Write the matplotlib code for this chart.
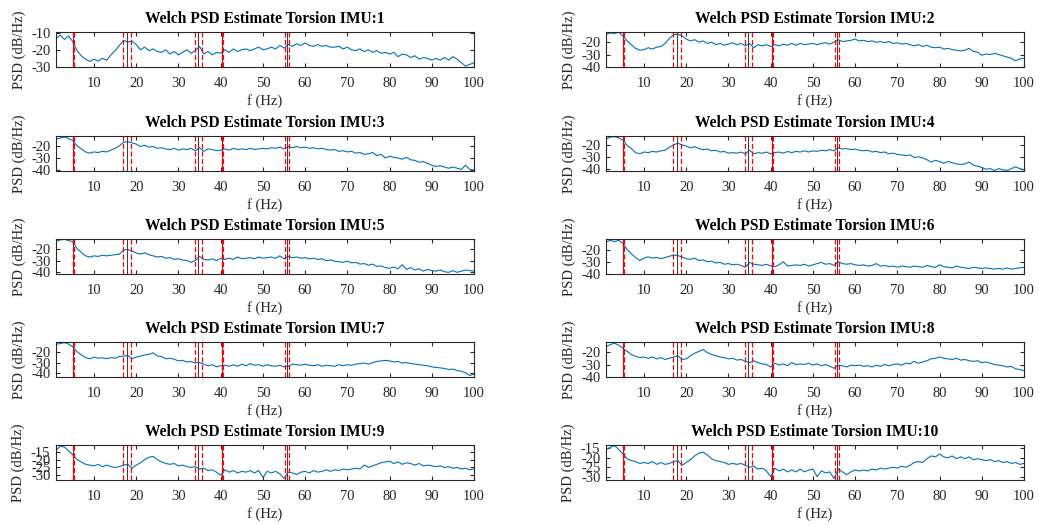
import matplotlib
matplotlib.use("Agg")
import matplotlib.pyplot as plt
import numpy as np

plt.rcParams['font.family'] = ['Liberation Serif', 'DejaVu Serif']
plt.rcParams['axes.unicode_minus'] = False

freq = np.arange(1, 101)

psd1 = [-13.5, -11.5, -14, -12, -15.5, -20.5, -23.5, -25.5, -26.8, -25.5,
        -26.5, -25, -26, -23, -20.5, -17.5, -14.5, -15.5, -15, -17,
        -20, -18.5, -20.5, -19.5, -21, -21.5, -20, -22.5, -21, -23,
        -21.5, -20, -22, -20.5, -18, -22.5, -21, -23, -21.5, -22,
        -20, -21.5, -19.5, -21, -20, -19.5, -20.5, -19.5, -18.5, -20,
        -19.5, -18.5, -19.5, -17.5, -19, -17, -18, -16.5, -17.5, -16,
        -17.5, -18, -17, -18, -17.5, -18.5, -18.5, -18, -19.5, -18.5,
        -20, -20.5, -19.5, -21, -20, -21.5, -20.5, -22, -21.5, -22.5,
        -21.5, -24, -22.5, -23, -24.5, -23.5, -25.5, -24.5, -25, -26,
        -25, -26, -24.5, -26, -24, -25.5, -27.5, -29.5, -28.5, -27.5]
psd2 = [-14, -12.5, -13, -12, -15, -19, -22, -25, -26.5, -26,
        -24.5, -25.5, -24, -23.5, -21, -17, -14, -13.5, -15, -17.5,
        -19, -18, -20, -19, -21, -20, -22, -21, -22.5, -21.5,
        -20.5, -22, -21, -23, -21, -24.5, -22, -23, -22, -23.5,
        -22, -23, -21.5, -22.5, -21, -22.5, -21, -22, -21.5, -21,
        -22, -21, -20.5, -21.5, -20, -18, -19.5, -19, -18.5, -17.5,
        -19, -18.5, -19.5, -19, -20, -19.5, -20.5, -19.5, -21, -20.5,
        -21.5, -21, -22, -23, -22, -23.5, -22.5, -24, -24.5, -24,
        -25.5, -25, -26, -26.5, -27, -26.5, -25, -27.5, -28, -30.5,
        -29.5, -30, -29, -30, -31, -32, -33, -35, -33.5, -33]
psd3 = [-14.5, -13.5, -12.5, -14, -15.5, -20, -22.5, -25, -26, -25,
        -25.5, -24.5, -25, -23.5, -22, -20, -17, -16.5, -17.5, -18.5,
        -20.5, -19.5, -21, -20.5, -22, -21.5, -22.5, -23, -22, -23.5,
        -22.5, -23, -22, -24, -21.5, -24.5, -22.5, -23, -24, -23.5,
        -22.5, -23.5, -22, -23, -22.5, -23, -22, -23, -22.5, -22,
        -22.5, -21.5, -22, -21, -22.5, -20.5, -21.5, -20.5, -21.5, -21,
        -22, -21.5, -22.5, -22, -23, -23.5, -23, -24.5, -24, -25,
        -24.5, -26, -25.5, -27, -26.5, -25.5, -28, -27, -30, -28.5,
        -29.5, -30, -31, -29.5, -31.5, -32, -33.5, -33, -34.5, -36,
        -37, -36.5, -37.5, -38.5, -37.5, -38.5, -39.5, -36, -39.5, -40]
psd4 = [-15, -13.5, -13, -14, -16, -20.5, -23, -26.5, -27.5, -26,
        -26.5, -25.5, -26, -25, -24.5, -22, -20, -18.5, -20, -21,
        -22.5, -21.5, -23, -24, -23.5, -25, -24.5, -26, -25.5, -27,
        -26.5, -27, -26, -27.5, -24.5, -27.5, -26.5, -27, -26, -27.5,
        -26.5, -26, -27, -25.5, -26.5, -25.5, -26, -25, -26, -25,
        -25.5, -24.5, -25, -24, -25, -22.5, -23.5, -23, -24, -23.5,
        -24.5, -25, -24.5, -26, -25.5, -26.5, -26, -27.5, -27, -28,
        -28.5, -29, -28.5, -30.5, -30, -31, -32.5, -34.5, -33, -34,
        -35.5, -34, -35, -36, -36.5, -36, -34.5, -37, -38, -39,
        -40.5, -40, -41.5, -40, -41, -41.5, -40, -38.5, -40, -41]
psd5 = [-13.5, -12.5, -12, -13, -14, -20, -23, -26, -27, -26,
        -26.5, -25.5, -26, -25.5, -25, -24.5, -21, -20.5, -22, -23.5,
        -24.5, -23.5, -25, -26, -27, -26.5, -28, -27.5, -29, -28.5,
        -29.5, -30, -31.5, -30, -26.5, -29, -29.5, -28.5, -30, -28,
        -29, -28, -29, -27, -28.5, -28, -27.5, -28.5, -27, -28,
        -27.5, -27, -28, -26, -28.5, -26.5, -27.5, -27, -28, -27.5,
        -28.5, -28, -29, -28.5, -30, -29.5, -30.5, -31, -31.5, -30.5,
        -32, -31.5, -33, -32.5, -34, -33, -35, -34.5, -36, -36.5,
        -35.5, -37, -33.5, -37.5, -36, -38, -37, -39, -37.5, -38.5,
        -39, -38, -39.5, -40, -38.5, -40, -39, -38, -38.5, -39]
psd6 = [-14, -12.5, -13.5, -12.5, -15, -20, -23.5, -26.5, -29, -27,
        -26, -27, -26.5, -27.5, -26.5, -25.5, -24.5, -25, -26, -27.5,
        -28, -27, -29, -28.5, -30, -29.5, -31, -30.5, -32, -31.5,
        -32.5, -32, -33, -34.5, -30.5, -32, -32.5, -33, -32, -33.5,
        -34, -32.5, -30, -33.5, -33, -32.5, -33, -32, -33.5, -32.5,
        -31.5, -30.5, -32, -31.5, -33, -30, -31.5, -32, -31.5, -32.5,
        -33, -32.5, -33.5, -33, -31.5, -33.5, -33, -34, -33.5, -34.5,
        -33.5, -34, -34.5, -33.5, -34, -34.5, -33, -34, -34.5, -32.5,
        -34, -34.5, -35, -33.5, -34.5, -35, -35.5, -34.5, -35, -35.5,
        -35, -35.5, -36, -35.5, -36, -35, -36, -35.5, -35, -34.5]
psd7 = [-13, -12.5, -11.5, -13, -15.5, -20, -23, -25.5, -26.5, -25,
        -26, -25.5, -26.5, -25.5, -26, -24.5, -24, -23.5, -26.5, -25,
        -24, -23, -22.5, -21, -24, -24.5, -26.5, -26, -27, -28.5,
        -28, -29.5, -29, -30.5, -30, -31.5, -33, -32, -34, -33,
        -32.5, -33.5, -32, -33.5, -31.5, -33, -31, -32.5, -32, -33.5,
        -32, -33, -33.5, -32.5, -34, -33.5, -31.5, -32, -32.5, -31.5,
        -32.5, -33, -32, -33.5, -32.5, -33, -33.5, -32, -33, -32,
        -32.5, -31.5, -31, -30.5, -31.5, -30, -29, -28.5, -28, -28.5,
        -29.5, -29, -30.5, -30, -31, -31.5, -32, -32.5, -33, -34,
        -34.5, -35, -35.5, -36.5, -36, -37.5, -38, -39.5, -42, -40.5]
psd8 = [-16, -14, -13, -14.5, -17, -19.5, -22, -23.5, -24.5, -24,
        -25, -24, -25.5, -24.5, -26, -25, -24, -23, -26, -25.5,
        -23, -21, -19.5, -18, -20.5, -22, -23, -24, -24.5, -25.5,
        -25, -26.5, -26, -27.5, -28.5, -27, -28.5, -29.5, -30, -32,
        -29, -30.5, -29.5, -31, -28.5, -30, -29.5, -30, -29, -30.5,
        -29.5, -31, -30, -31.5, -33, -30.5, -31, -32, -30.5, -31,
        -30.5, -31.5, -31, -32, -30.5, -31.5, -30, -31, -30, -29.5,
        -30.5, -29, -29.5, -27.5, -29, -28, -27, -25.5, -25, -24,
        -25, -25.5, -26, -25, -26.5, -26, -27, -27.5, -27, -28.5,
        -28, -29, -30, -30.5, -31, -32, -31.5, -33.5, -34, -35]
psd9 = [-14, -11.5, -12, -14.5, -17, -20, -21.5, -23, -23.5, -24,
        -23, -24.5, -23.5, -24.5, -25, -24.5, -23.5, -23, -25.5, -23.5,
        -22, -20, -18.5, -18, -20, -21.5, -22.5, -23, -22.5, -24,
        -23.5, -24.5, -25, -24.5, -26, -25.5, -27, -26.5, -28, -30,
        -26.5, -28, -27, -28.5, -27.5, -28, -27, -28.5, -27, -31.5,
        -27.5, -28.5, -27.5, -29, -32, -28, -28.5, -29.5, -28, -27.5,
        -28.5, -27, -28, -27.5, -26.5, -27.5, -26.5, -27, -26, -26.5,
        -26, -25.5, -26, -23.5, -25, -24, -23, -22, -21.5, -21,
        -22.5, -21.5, -23, -22, -22.5, -23.5, -22.5, -24, -23.5, -24,
        -24.5, -24, -25, -24.5, -25.5, -25, -26, -25.5, -26.5, -26]
psd10 = [-15.5, -14.5, -13.5, -15.5, -18, -20.5, -21.5, -22, -23, -22.5,
         -23, -22, -23.5, -22.5, -23.5, -23, -22, -21.5, -24, -22.5,
         -21, -19, -17.5, -17, -18.5, -20.5, -21.5, -22, -22.5, -23.5,
         -23, -23.5, -23, -24, -25, -24.5, -26, -25.5, -27, -30,
         -25.5, -27, -26, -27.5, -26.5, -27.5, -26, -27.5, -26.5, -26,
         -30, -27, -28, -27.5, -31, -26, -27.5, -29, -27.5, -26.5,
         -27, -26.5, -27, -26, -26.5, -25.5, -26, -25.5, -25, -25.5,
         -24.5, -25, -24, -22.5, -22, -22.5, -20.5, -19, -19.5, -18,
         -19.5, -20, -19, -20.5, -19.5, -20.5, -19.5, -21, -20.5, -21,
         -21.5, -21, -22, -21.5, -22.5, -22, -23, -22.5, -23.5, -23]

psds = [psd1, psd2, psd3, psd4, psd5, psd6, psd7, psd8, psd9, psd10]
ylims = [(-30, -9.7), (-40, -11.8), (-40.8, -11.8), (-42, -12.5), (-41.4, -11.7),
         (-40, -11.4), (-43.4, -11), (-40, -12), (-33, -10.7), (-31.8, -13.2)]
yticks = [[-30, -20, -10]] + [[-40, -30, -20]] * 7 + [[-30, -25, -20, -15]] * 2

# characteristic frequencies (black) and their bands (red dashed)
f_center = [5.1, 17.8, 34.7, 40.3, 55.6]
f_band = [4.95, 5.2, 16.9, 18.8, 33.9, 35.5, 40.4, 40.65, 55.2, 56.1]

fig = plt.figure(figsize=(10.39, 5.25), dpi=100)
lefts = [56 / 1039, 606 / 1039]
tops = [32, 136, 239, 342, 445]

for i in range(10):
    row, col = i // 2, i % 2
    ax = fig.add_axes([lefts[col], 1 - (tops[row] + 35) / 525, 418 / 1039, 35 / 525])
    ax.plot(freq, psds[i], color='#0072BD', lw=0.8)
    for f in f_center:
        ax.axvline(f, color='#404040', lw=0.8)
    for f in f_band:
        ax.axvline(f, color='red', lw=0.9, ls=(0, (4, 2)))
    ax.set_xlim(1, 100)
    ax.set_ylim(ylims[i])
    ax.set_xticks(np.arange(10, 101, 10))
    ax.set_yticks(yticks[i])
    ax.tick_params(direction='in', top=True, right=True, length=3,
                   labelsize=10.5, colors='#262626')
    ax.tick_params(axis='x', pad=7.5)
    ax.tick_params(axis='y', pad=4)
    for s in ax.spines.values():
        s.set_color('#262626')
        s.set_linewidth(0.8)
    ax.set_title('Welch PSD Estimate Torsion IMU:%d' % (i + 1), fontsize=11.2,
                 fontweight='bold', pad=6.5)
    ax.set_xlabel('f (Hz)', fontsize=10.5, color='#262626', labelpad=2.5)
    ax.set_ylabel('PSD (dB/Hz)', fontsize=10.5, color='#262626', labelpad=4)

fig.savefig('out.png', dpi=100)
